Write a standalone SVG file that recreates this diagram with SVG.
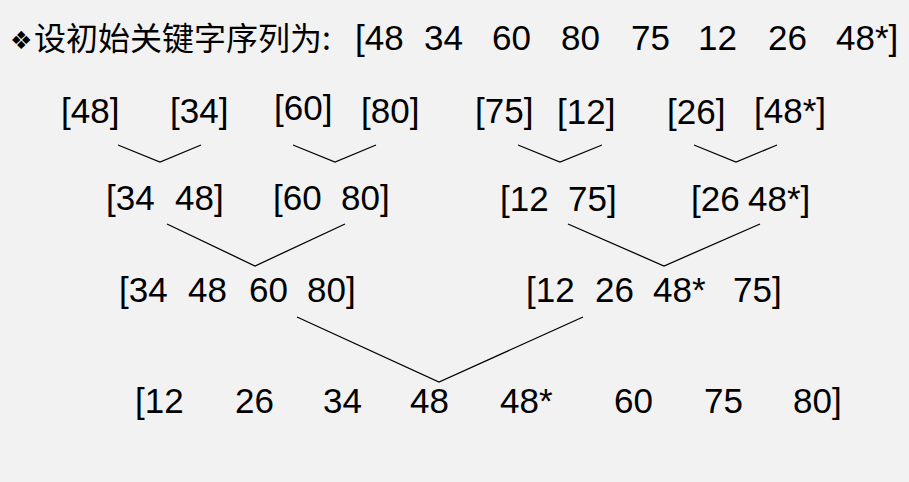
<svg xmlns="http://www.w3.org/2000/svg" width="909" height="482" viewBox="0 0 909 482">
<style>
text{font-family:"Liberation Sans","Noto Sans CJK SC",sans-serif;font-size:35px;fill:#000}
.cjk{font-family:"Noto Sans CJK SC","Liberation Sans",sans-serif;font-size:32px}
.sym{font-family:"DejaVu Sans",sans-serif;font-size:25px}
.c{fill:none;stroke:#000;stroke-width:1.3}
</style>
<rect width="909" height="482" fill="#f2f2f2"/>
<g id="title">
<text><tspan class="sym" x="10" y="49">❖</tspan><tspan class="cjk" x="34" y="50">设初始关键字序列为: </tspan><tspan x="355" y="50">[48 </tspan><tspan x="424" y="50">34 </tspan><tspan x="492" y="50">60 </tspan><tspan x="561" y="50">80 </tspan><tspan x="631" y="50">75 </tspan><tspan x="698" y="50">12 </tspan><tspan x="768" y="50">26 </tspan><tspan x="836" y="50">48*]</tspan></text>
</g>
<g id="n48"><text x="61" y="123">[48]</text></g>
<g id="n34"><text x="170" y="123">[34]</text></g>
<g id="n60"><text x="274" y="120">[60]</text></g>
<g id="n80"><text x="361" y="123">[80]</text></g>
<g id="n75"><text x="475" y="123">[75]</text></g>
<g id="n12"><text x="557" y="124">[12]</text></g>
<g id="n26"><text x="667" y="124">[26]</text></g>
<g id="n48s"><text x="754" y="123">[48*]</text></g>
<g id="m3448"><text y="210"><tspan x="106">[34 </tspan><tspan x="175">48]</tspan></text></g>
<g id="m6080"><text y="210"><tspan x="273">[60 </tspan><tspan x="341">80]</tspan></text></g>
<g id="m1275"><text y="211"><tspan x="500">[12 </tspan><tspan x="568">75]</tspan></text></g>
<g id="m2648"><text y="211"><tspan x="691">[26 </tspan><tspan x="748">48*]</tspan></text></g>
<g id="m4left"><text y="302"><tspan x="119">[34 </tspan><tspan x="188">48 </tspan><tspan x="249">60 </tspan><tspan x="307">80]</tspan></text></g>
<g id="m4right"><text y="302"><tspan x="526">[12 </tspan><tspan x="595">26 </tspan><tspan x="653">48* </tspan><tspan x="733">75]</tspan></text></g>
<g id="result"><text y="413"><tspan x="135">[12 </tspan><tspan x="235">26 </tspan><tspan x="323">34 </tspan><tspan x="410">48 </tspan><tspan x="500">48* </tspan><tspan x="614">60 </tspan><tspan x="704">75 </tspan><tspan x="793">80]</tspan></text></g>
<g id="connectors">
<polyline class="c" points="118,145 160,162 201,145"/>
<polyline class="c" points="293,145 335,162 376,145"/>
<polyline class="c" points="518,145 560,162 602,145"/>
<polyline class="c" points="694,145 736,162 777,145"/>
<polyline class="c" points="167,224 255,266 345,224"/>
<polyline class="c" points="568,224 664,266 760,224"/>
<polyline class="c" points="297,317 439,382 583,317"/>
</g>
</svg>
